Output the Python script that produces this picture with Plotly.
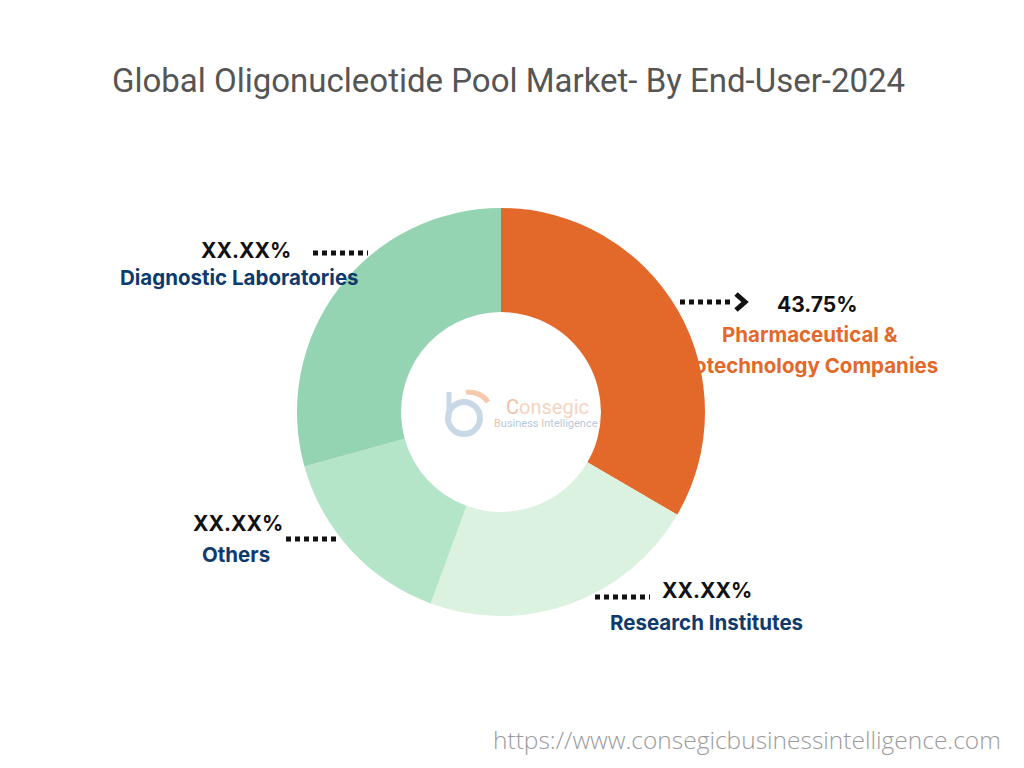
import plotly.graph_objects as go

W, H = 1024, 768
OFF = 8  # page body margin

categories = ["Pharmaceutical & Biotechnology Companies", "Research Institutes", "Others", "Diagnostic Laboratories"]
values = [33.4, 22.2, 15.1, 29.3]
colors = ["#E3692A", "#DAF2DF", "#B5E5C9", "#94D4B2"]
pct_labels = ["43.75%", "XX.XX%", "XX.XX%", "XX.XX%"]
title_text = "Global Oligonucleotide Pool Market- By End-User-2024"
url_text = "https://www.consegicbusinessintelligence.com"


def px(x):
    return (x - OFF) / W


def py(y):
    return 1 - (y - OFF) / H


cx, cy, R = 501, 412, 204

fig = go.Figure(go.Pie(
    labels=categories,
    values=values,
    marker=dict(colors=colors, line=dict(width=0)),
    hole=0.49,
    sort=False,
    direction="clockwise",
    rotation=0,
    textinfo="none",
    hoverinfo="label+percent",
    domain=dict(x=[px(cx - R), px(cx + R)], y=[py(cy + R), py(cy - R)]),
    showlegend=False,
))

BLUE = "#0E3B6B"
LBL = dict(family="Inter", size=20.5, color=BLUE, weight=700)
PCT = dict(family="Inter", size=21, color="#111111", weight=700)
ORG = dict(family="Inter", size=20.5, color=colors[0], weight=700)

ann = []


def add_text(text, x, y, font, xanchor="center"):
    ann.append(dict(text=text, x=px(x), y=py(y), xref="paper", yref="paper",
                    showarrow=False, font=font, xanchor=xanchor, yanchor="middle"))


add_text(title_text, 508, 80, dict(family="Roboto", size=33, color="#555555"))
add_text(url_text, 1003, 739, dict(family="Open Sans", size=24.5, color="#9b9b9b", weight=300), xanchor="right")

# Pharma
add_text(pct_labels[0], 817, 304, PCT)
add_text("Pharmaceutical &", 810, 334, ORG)
add_text("Biotechnology Companies", 940, 366, ORG, xanchor="right")
# Research
add_text(pct_labels[1], 707, 590, PCT)
add_text(categories[1], 706, 622, LBL)
# Others
add_text(pct_labels[2], 238, 523, PCT)
add_text(categories[2], 236, 554, LBL)
# Diagnostic
add_text(pct_labels[3], 246, 250, PCT)
add_text(categories[3], 239, 277, LBL)

# Center logo text
add_text("<span style='color:#F2C1A4'>C</span>onsegic", 504, 407,
         dict(family="Roboto", size=20, color="#F4D4C2"), xanchor="left")
add_text("<span style='color:#F2C1A4'>B</span>usiness <span style='color:#F2C1A4'>I</span>ntelligence", 492, 423,
         dict(family="Roboto", size=11, color="#B8C9DA"), xanchor="left")

shapes = []


def dotted(x0, x1, y):
    shapes.append(dict(type="line", xref="paper", yref="paper", x0=px(x0), x1=px(x1), y0=py(y), y1=py(y),
                       line=dict(color="#111111", width=5, dash="5px,4px")))


dotted(680, 732, 302)
dotted(595, 650, 597)
dotted(286, 340, 539)
dotted(313, 368, 253)

# arrow head
shapes.append(dict(type="path", xref="paper", yref="paper",
                   path=f"M {px(736)} {py(294)} L {px(745)} {py(302)} L {px(736)} {py(310)}",
                   line=dict(color="#111111", width=5)))

# logo icon
shapes.append(dict(type="circle", xref="paper", yref="paper",
                   x0=px(448), x1=px(480), y0=py(434), y1=py(402),
                   line=dict(color="#C8D8E6", width=6)))
shapes.append(dict(type="line", xref="paper", yref="paper",
                   x0=px(449), x1=px(449), y0=py(418), y1=py(392),
                   line=dict(color="#C8D8E6", width=5)))
shapes.append(dict(type="path", xref="paper", yref="paper",
                   path=f"M {px(466)} {py(392)} Q {px(482)} {py(392)} {px(488)} {py(402)}",
                   line=dict(color="#F4C9AE", width=5)))

fig.update_layout(
    width=W, height=H,
    margin=dict(l=0, r=0, t=0, b=0),
    paper_bgcolor="white",
    plot_bgcolor="white",
    annotations=ann,
    shapes=shapes,
)

fig.write_html("out.html")
